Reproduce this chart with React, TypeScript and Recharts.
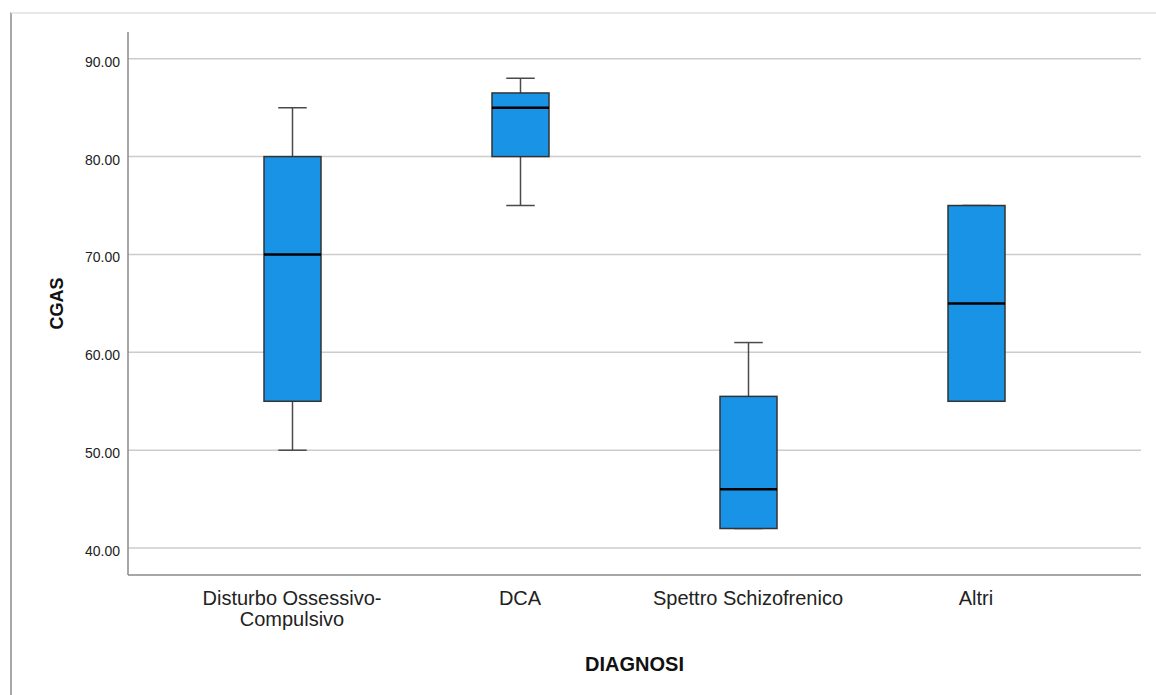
import { BarChart, Bar, XAxis, YAxis, CartesianGrid, Label } from 'recharts';

const categories = ['Disturbo Ossessivo-Compulsivo', 'DCA', 'Spettro Schizofrenico', 'Altri'];
const minValues = [50, 75, 42, 55];
const q1Values = [55, 80, 42, 55];
const medianValues = [70, 85, 46, 65];
const q3Values = [80, 86.5, 55.5, 75];
const maxValues = [85, 88, 61, 75];
const yTicks = [40, 50, 60, 70, 80, 90];

const data = categories.map((name, i) => ({
  name,
  min: minValues[i],
  q1: q1Values[i],
  median: medianValues[i],
  q3: q3Values[i],
  max: maxValues[i],
  range: [minValues[i], maxValues[i]],
}));

const FONT = '"Liberation Sans", Arial, sans-serif';

// draws whiskers + box + median inside the min..max rect that Recharts computes
function BoxShape(props: any) {
  const { x, y, width, height, payload } = props;
  const top = Math.min(y, y + height);
  const h = Math.abs(height);
  const ppu = h / (payload.max - payload.min);
  const py = (v: number) => top + (payload.max - v) * ppu;
  const cx = x + width / 2;
  const cap = width / 4;
  const whisker = { stroke: '#4a4a4a', strokeWidth: 1.5 };
  return (
    <g>
      <line x1={cx} x2={cx} y1={py(payload.max)} y2={py(payload.q3)} {...whisker} />
      <line x1={cx} x2={cx} y1={py(payload.q1)} y2={py(payload.min)} {...whisker} />
      <line x1={cx - cap} x2={cx + cap} y1={py(payload.max)} y2={py(payload.max)} {...whisker} />
      <line x1={cx - cap} x2={cx + cap} y1={py(payload.min)} y2={py(payload.min)} {...whisker} />
      <rect
        x={x}
        y={py(payload.q3)}
        width={width}
        height={py(payload.q1) - py(payload.q3)}
        fill="#1893e6"
        stroke="#333"
        strokeWidth={1.5}
      />
      <line x1={x} x2={x + width} y1={py(payload.median)} y2={py(payload.median)} stroke="#000" strokeWidth={2.5} />
    </g>
  );
}

function CategoryTick({ x, y, payload }: any) {
  const text: string = payload.value;
  const lines = text.includes('-') ? [text.slice(0, text.indexOf('-') + 1), text.slice(text.indexOf('-') + 1)] : [text];
  return (
    <text x={x} y={y} textAnchor="middle" fill="#222" fontSize={20} fontFamily={FONT}>
      {lines.map((l, i) => (
        <tspan key={i} x={x} dy={i === 0 ? 22 : 21}>
          {l}
        </tspan>
      ))}
    </text>
  );
}

export default function App() {
  return (
    <div style={{ position: 'absolute', left: 0, top: 0, width: 1156, height: 695, background: '#fff' }}>
      <div
        style={{
          position: 'absolute',
          left: 10,
          top: 12,
          width: 1146,
          height: 683,
          borderLeft: '2px solid #a8a8a8',
          borderTop: '2px solid #e8e8e8',
          boxSizing: 'border-box',
        }}
      />
      <BarChart
        width={1156}
        height={695}
        data={data}
        margin={{ top: 32, right: 15, bottom: 0, left: 0 }}
        style={{ position: 'absolute', left: 0, top: 0 }}
      >
        <CartesianGrid vertical={false} horizontalValues={yTicks} stroke="#cccccc" strokeWidth={1.5} />
        <XAxis
          dataKey="name"
          height={120}
          padding={{ left: 50, right: 51 }}
          tickLine={false}
          axisLine={{ stroke: '#8a8a8a', strokeWidth: 1.5 }}
          tick={<CategoryTick />}
          interval={0}
        >
          <Label
            value="DIAGNOSI"
            position="insideBottom"
            offset={24}
            style={{ fontSize: 20, fontWeight: 'bold', fill: '#111', fontFamily: FONT }}
          />
        </XAxis>
        <YAxis
          width={128}
          domain={[37.25, 92.73]}
          ticks={yTicks}
          allowDataOverflow
          tickLine={false}
          axisLine={{ stroke: '#8a8a8a', strokeWidth: 1.5 }}
          tickFormatter={(v: number) => v.toFixed(2)}
          tick={{ fontSize: 14, fill: '#222', fontFamily: FONT, dy: 3 }}
        >
          <Label
            content={({ viewBox }: any) => {
              const cx = viewBox.x + 57;
              const cy = viewBox.y + viewBox.height / 2;
              return (
                <text
                  x={cx}
                  y={cy}
                  transform={`rotate(-90 ${cx} ${cy})`}
                  textAnchor="middle"
                  dominantBaseline="central"
                  fontSize={18}
                  fontWeight="bold"
                  fill="#111"
                  fontFamily={FONT}
                >
                  CGAS
                </text>
              );
            }}
          />
        </YAxis>
        <Bar dataKey="range" barSize={57} shape={<BoxShape />} isAnimationActive={false} />
      </BarChart>
    </div>
  );
}
